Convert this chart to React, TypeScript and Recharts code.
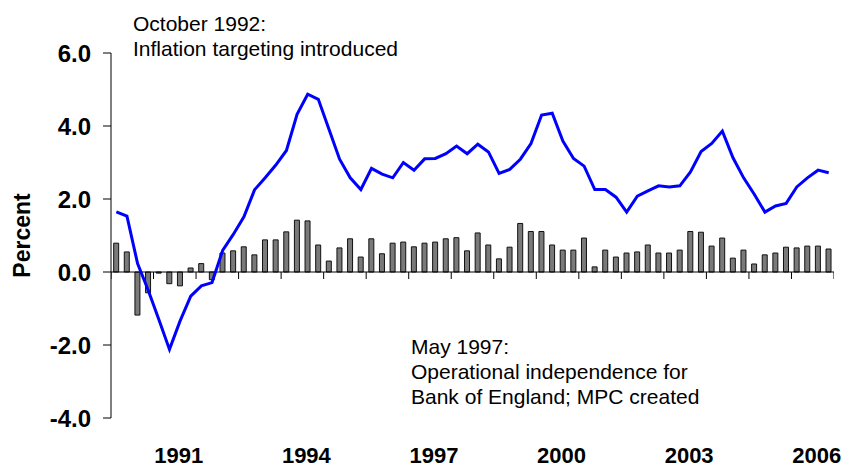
import { ComposedChart, Bar, Line, Scatter, XAxis, YAxis, ReferenceLine } from 'recharts';

const FONT = '"Liberation Sans", Arial, Helvetica, sans-serif';

// quarters 1990 Q1 .. 2006 Q4
const years = [1990, 1991, 1992, 1993, 1994, 1995, 1996, 1997, 1998, 1999, 2000, 2001, 2002, 2003, 2004, 2005, 2006];
const quarters = ['Q1', 'Q2', 'Q3', 'Q4'];

// quarter-on-quarter growth, percent (bars)
const quarterlyGrowth = [
  0.79, 0.55, -1.18, -0.57, // 1990
  -0.03, -0.32, -0.38, 0.11, // 1991
  0.23, -0.21, 0.52, 0.58, // 1992
  0.69, 0.47, 0.88, 0.88, // 1993
  1.1, 1.42, 1.4, 0.74, // 1994
  0.3, 0.66, 0.91, 0.41, // 1995
  0.91, 0.5, 0.79, 0.82, // 1996
  0.69, 0.79, 0.82, 0.91, // 1997
  0.94, 0.58, 1.07, 0.74, // 1998
  0.36, 0.68, 1.33, 1.11, // 1999
  1.11, 0.74, 0.6, 0.6, // 2000
  0.93, 0.14, 0.6, 0.41, // 2001
  0.52, 0.55, 0.74, 0.52, // 2002
  0.52, 0.6, 1.11, 1.09, // 2003
  0.71, 0.93, 0.38, 0.6, // 2004
  0.22, 0.47, 0.52, 0.68, // 2005
  0.66, 0.71, 0.71, 0.63, // 2006
];

// four-quarter growth, percent (line)
const annualGrowth = [
  1.65, 1.53, 0.23, -0.5, // 1990
  -1.3, -2.12, -1.34, -0.66, // 1991
  -0.38, -0.29, 0.59, 1.03, // 1992
  1.51, 2.25, 2.58, 2.93, // 1993
  3.33, 4.32, 4.87, 4.73, // 1994
  3.91, 3.09, 2.58, 2.26, // 1995
  2.84, 2.68, 2.58, 3.0, // 1996
  2.79, 3.1, 3.11, 3.24, // 1997
  3.45, 3.24, 3.5, 3.29, // 1998
  2.7, 2.81, 3.09, 3.52, // 1999
  4.3, 4.35, 3.59, 3.11, // 2000
  2.9, 2.26, 2.26, 2.05, // 2001
  1.64, 2.08, 2.22, 2.36, // 2002
  2.33, 2.36, 2.74, 3.3, // 2003
  3.52, 3.86, 3.13, 2.58, // 2004
  2.13, 1.64, 1.81, 1.88, // 2005
  2.33, 2.58, 2.79, 2.72, // 2006
];

const yearBoundaries = [1990, 1991, 1992, 1993, 1994, 1995, 1996, 1997, 1998, 1999, 2000, 2001, 2002, 2003, 2004, 2005, 2006, 2007];
const yearLabels = [1991, 1994, 1997, 2000, 2003, 2006];
const yTicks = [-4, -2, 0, 2, 4, 6];

// each quarter sits in the middle of its slot within the year
const data = years.flatMap((yr, yi) =>
  quarters.map((q, qi) => ({
    quarter: `${yr} ${q}`,
    t: yr + (qi + 0.5) / quarters.length,
    qoq: quarterlyGrowth[yi * 4 + qi],
    yoy: annualGrowth[yi * 4 + qi],
  }))
);

// year boundary ticks hang below the zero line
const tickMarks = yearBoundaries.map((yr) => ({ t: yr, zero: 0 }));

const TickMark = (props: any) => {
  const { cx, cy } = props;
  if (cx == null || cy == null) return null;
  return <line x1={cx} y1={cy} x2={cx} y2={cy + 7} stroke="#000" strokeWidth={1} />;
};

const PercentLabel = (props: any) => {
  const vb = props.viewBox || { x: 0, y: 53, width: 111, height: 365 };
  const x = vb.x + 22;
  const y = vb.y + vb.height / 2;
  return (
    <text
      x={x}
      y={y}
      transform={`rotate(-90, ${x}, ${y})`}
      textAnchor="middle"
      dominantBaseline="central"
      fontFamily={FONT}
      fontWeight="bold"
      fontSize={23}
      fill="#000"
    >
      Percent
    </text>
  );
};

const noteStyle: React.CSSProperties = {
  position: 'absolute',
  fontFamily: FONT,
  fontSize: 21,
  lineHeight: '25px',
  color: '#000',
  whiteSpace: 'nowrap',
};

export default function App() {
  return (
    <div style={{ position: 'absolute', left: 0, top: 0, width: 849, height: 468, background: '#fff' }}>
      <ComposedChart width={849} height={468} data={data} margin={{ top: 53, right: 15, bottom: 0, left: 0 }}>
        <XAxis
          dataKey="t"
          type="number"
          domain={[1990, 2007]}
          allowDataOverflow
          ticks={yearLabels.map((y) => y + 0.5)}
          interval={0}
          tickFormatter={(v: number) => String(Math.floor(v))}
          axisLine={false}
          tickLine={false}
          tickSize={6}
          tickMargin={23}
          height={50}
          tick={{ fontFamily: FONT, fontWeight: 'bold', fontSize: 22, fill: '#000', dx: 4 }}
        />
        <YAxis
          domain={[-4, 6]}
          ticks={yTicks}
          tickFormatter={(v: number) => v.toFixed(1)}
          width={111}
          axisLine={{ stroke: '#000' }}
          tickLine={{ stroke: '#000' }}
          tickSize={8}
          tickMargin={12}
          tick={{ fontFamily: FONT, fontWeight: 'bold', fontSize: 24, fill: '#000' }}
          label={<PercentLabel />}
        />
        <Bar dataKey="qoq" fill="#7a7a7a" stroke="#111" strokeWidth={1} barSize={5} isAnimationActive={false} />
        <ReferenceLine y={0} stroke="#000" strokeWidth={1} />
        <Scatter data={tickMarks} dataKey="zero" shape={<TickMark />} isAnimationActive={false} />
        <Line dataKey="yoy" type="linear" stroke="#0000ff" strokeWidth={3} dot={false} isAnimationActive={false} />
      </ComposedChart>
      <div style={{ ...noteStyle, left: 133, top: 11 }}>
        October 1992:
        <br />
        Inflation targeting introduced
      </div>
      <div style={{ ...noteStyle, left: 411, top: 334 }}>
        May 1997:
        <br />
        Operational independence for
        <br />
        Bank of England; MPC created
      </div>
    </div>
  );
}
